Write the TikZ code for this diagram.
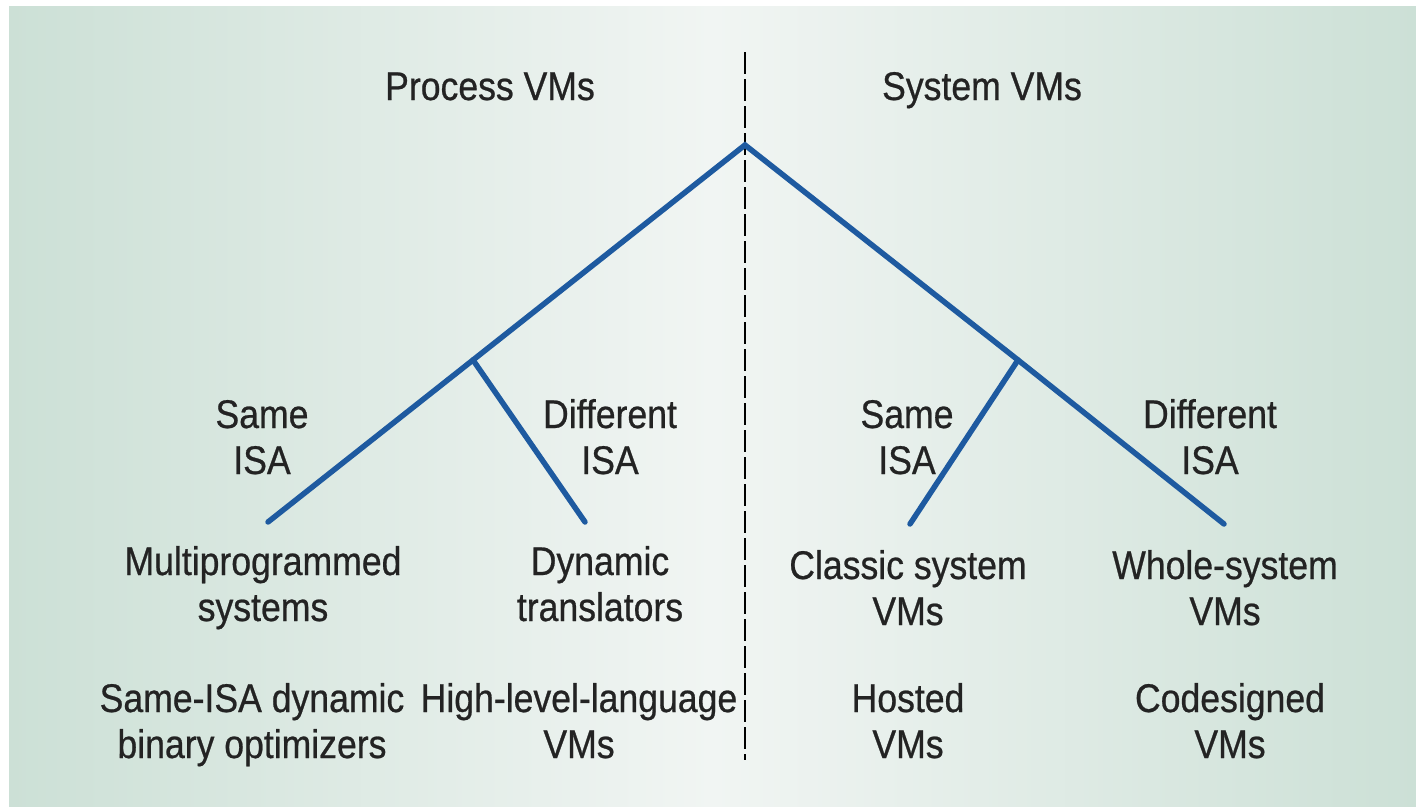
\documentclass[tikz,border=0pt]{standalone}
\usepackage{fontspec}
\setmainfont[FakeStretch=0.89,FakeBold=0.6]{Liberation Sans}
\begin{document}
\begin{tikzpicture}[x=1pt,y=-1pt,
  lbl/.style={anchor=base,align=center,text=txtcol,inner sep=0pt,
    font=\fontsize{40}{46}\selectfont},
  branch/.style={draw=bluecol,line width=5.5pt,line cap=round}]
\definecolor{bluecol}{RGB}{30,90,160}
\definecolor{txtcol}{RGB}{35,35,35}
\definecolor{mint}{RGB}{204,224,214}
\definecolor{pale}{RGB}{241,245,243}
\useasboundingbox (0,0) rectangle (1416,806);
\fill[white] (0,0) rectangle (1416,806);
\shade[shading=axis,left color=mint,right color=mint,middle color=pale,shading angle=90]
  (9,6) rectangle (1416,806);
% divider
\coordinate (dtop) at (745,52);
\coordinate (dbot) at (745,760);
\draw[line width=1.5pt,dash pattern=on 22pt off 5pt] (dtop) -- (dbot);
% tree
\coordinate (apex) at (745,145);
\coordinate (jl) at (473,360);
\coordinate (jr) at (1018,360);
\coordinate (l1) at (268,522);
\coordinate (l2) at (585,522);
\coordinate (r1) at (910,524);
\coordinate (r2) at (1224,524);
\draw[branch] (l1) -- (jl) -- (apex) -- (jr) -- (r2);
\draw[branch] (jl) -- (l2);
\draw[branch] (jr) -- (r1);
% headings
\node[lbl] (pvm) at (490,100) {Process VMs};
\node[lbl] (svm) at (982,100) {System VMs};
% ISA labels (anchor = baseline of last line)
\node[lbl] (sl) at (262,474) {Same\\ISA};
\node[lbl] (dl) at (610,474) {Different\\ISA};
\node[lbl] (sr) at (907,474) {Same\\ISA};
\node[lbl] (dr) at (1210,474) {Different\\ISA};
% leaves
\node[lbl] (mp) at (263,621) {Multiprogrammed\\systems};
\node[lbl] (dt) at (600,621) {Dynamic\\translators};
\node[lbl] (cs) at (908,625) {Classic system\\VMs};
\node[lbl] (ws) at (1225,625) {Whole-system\\VMs};
% examples
\node[lbl] (sb) at (252,758) {Same-ISA dynamic\\binary optimizers};
\node[lbl] (hl) at (579,758) {High-level-language\\VMs};
\node[lbl] (ho) at (908,758) {Hosted\\VMs};
\node[lbl] (co) at (1230,758) {Codesigned\\VMs};
\end{tikzpicture}
\end{document}
